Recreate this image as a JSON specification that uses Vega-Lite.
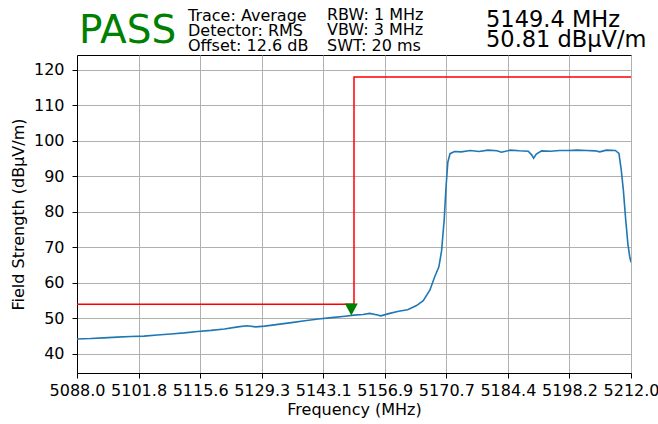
{
  "$schema": "https://vega.github.io/schema/vega-lite/v6.json",
  "width": 554,
  "height": 318,
  "autosize": {"type": "none"},
  "padding": {"left": 77, "top": 55, "right": 27, "bottom": 51},
  "background": "white",
  "config": {
    "font": "DejaVu Sans",
    "view": {"stroke": "black", "strokeWidth": 1},
    "axis": {
      "labelFont": "DejaVu Sans",
      "titleFont": "DejaVu Sans",
      "labelFontSize": 16,
      "titleFontSize": 16,
      "titleFontWeight": "normal",
      "labelColor": "black",
      "titleColor": "black",
      "domainColor": "black",
      "tickColor": "black",
      "tickSize": 5,
      "tickWidth": 1,
      "gridColor": "#b0b0b0",
      "gridWidth": 1,
      "gridOpacity": 1
    }
  },
  "datasets": {
    "trace": [
      {"f": 5088.0, "v": 44.2}, {"f": 5091, "v": 44.3}, {"f": 5094, "v": 44.5}, {"f": 5097, "v": 44.7},
      {"f": 5100, "v": 44.9}, {"f": 5103, "v": 45.0}, {"f": 5106, "v": 45.3}, {"f": 5109, "v": 45.6},
      {"f": 5112, "v": 45.9}, {"f": 5115, "v": 46.3}, {"f": 5118, "v": 46.6}, {"f": 5121, "v": 47.0},
      {"f": 5124, "v": 47.6}, {"f": 5126, "v": 47.9}, {"f": 5128, "v": 47.6}, {"f": 5130, "v": 47.8},
      {"f": 5133, "v": 48.3}, {"f": 5136, "v": 48.8}, {"f": 5139, "v": 49.3}, {"f": 5142, "v": 49.8},
      {"f": 5145, "v": 50.2}, {"f": 5148, "v": 50.6}, {"f": 5150, "v": 50.9}, {"f": 5152, "v": 51.1},
      {"f": 5153.5, "v": 51.4}, {"f": 5155, "v": 51.0}, {"f": 5156, "v": 50.7}, {"f": 5158, "v": 51.4},
      {"f": 5160, "v": 52.0}, {"f": 5162, "v": 52.4}, {"f": 5164, "v": 53.6}, {"f": 5165.5, "v": 55.0},
      {"f": 5167, "v": 58.0}, {"f": 5168, "v": 61.5}, {"f": 5169, "v": 64.5}, {"f": 5169.6, "v": 69},
      {"f": 5170.2, "v": 78}, {"f": 5170.6, "v": 87}, {"f": 5171, "v": 94}, {"f": 5171.5, "v": 96.4},
      {"f": 5172.5, "v": 97.0}, {"f": 5174, "v": 96.9}, {"f": 5176, "v": 97.3}, {"f": 5178, "v": 97.0},
      {"f": 5180, "v": 97.4}, {"f": 5182, "v": 97.2}, {"f": 5183, "v": 96.8}, {"f": 5185, "v": 97.4},
      {"f": 5187, "v": 97.2}, {"f": 5189, "v": 97.1}, {"f": 5189.8, "v": 96.0}, {"f": 5190.2, "v": 95.1},
      {"f": 5190.8, "v": 96.3}, {"f": 5192, "v": 97.2}, {"f": 5194, "v": 97.1}, {"f": 5196, "v": 97.3},
      {"f": 5198, "v": 97.3}, {"f": 5200, "v": 97.4}, {"f": 5202, "v": 97.3}, {"f": 5204, "v": 97.2},
      {"f": 5205, "v": 96.9}, {"f": 5206.5, "v": 97.4}, {"f": 5208.5, "v": 97.3}, {"f": 5209.3, "v": 96.5},
      {"f": 5209.8, "v": 92}, {"f": 5210.3, "v": 86}, {"f": 5210.8, "v": 78}, {"f": 5211.3, "v": 71},
      {"f": 5211.7, "v": 67.5}, {"f": 5212, "v": 65.8}
    ],
    "limit": [
      {"f": 5088, "v": 54, "o": 1},
      {"f": 5150, "v": 54, "o": 2},
      {"f": 5150, "v": 118, "o": 3},
      {"f": 5212, "v": 118, "o": 4}
    ],
    "marker": [{"f": 5149.4, "v": 50.81}]
  },
  "encoding": {
    "x": {
      "field": "f", "type": "quantitative",
      "scale": {"domain": [5088, 5212], "nice": false, "zero": false},
      "axis": {
        "title": "Frequency (MHz)",
        "values": [5088, 5101.78, 5115.56, 5129.33, 5143.11, 5156.89, 5170.67, 5184.44, 5198.22, 5212],
        "format": ".1f",
        "labelFlush": false,
        "labelOverlap": false,
        "labelPadding": 4,
        "titlePadding": 3
      }
    },
    "y": {
      "field": "v", "type": "quantitative",
      "scale": {"domain": [34.6, 124.2], "nice": false, "zero": false},
      "axis": {
        "title": "Field Strength (dBµV/m)",
        "values": [40, 50, 60, 70, 80, 90, 100, 110, 120],
        "labelPadding": 8,
        "titlePadding": 7
      }
    }
  },
  "layer": [
    {
      "data": {"name": "trace"},
      "mark": {"type": "line", "color": "#1f77b4", "strokeWidth": 1.6, "clip": true}
    },
    {
      "data": {"name": "limit"},
      "mark": {"type": "line", "color": "#ff0000", "strokeWidth": 1.5, "clip": true},
      "encoding": {"order": {"field": "o", "type": "quantitative"}}
    },
    {
      "data": {"name": "marker"},
      "mark": {"type": "point", "shape": "M-1,-1.85L1,-1.85L0,0Z", "filled": true, "color": "#008000", "size": 169, "opacity": 1}
    },
    {
      "data": {"values": [{"t": "PASS"}]},
      "mark": {"type": "text", "align": "left", "baseline": "alphabetic", "fontSize": 39, "color": "#008000", "font": "DejaVu Sans"},
      "encoding": {"x": {"value": 2}, "y": {"value": -12.3}, "text": {"field": "t"}}
    },
    {
      "data": {"values": [{"t": ["Trace: Average", "Detector: RMS", "Offset: 12.6 dB"]}]},
      "mark": {"type": "text", "align": "left", "baseline": "alphabetic", "fontSize": 16, "lineHeight": 15, "color": "black", "font": "DejaVu Sans"},
      "encoding": {"x": {"value": 111}, "y": {"value": -34.5}, "text": {"field": "t"}}
    },
    {
      "data": {"values": [{"t": ["RBW: 1 MHz", "VBW: 3 MHz", "SWT: 20 ms"]}]},
      "mark": {"type": "text", "align": "left", "baseline": "alphabetic", "fontSize": 16, "lineHeight": 15.5, "color": "black", "font": "DejaVu Sans"},
      "encoding": {"x": {"value": 250}, "y": {"value": -35.5}, "text": {"field": "t"}}
    },
    {
      "data": {"values": [{"t": "5149.4 MHz"}]},
      "mark": {"type": "text", "align": "left", "baseline": "alphabetic", "fontSize": 22.5, "color": "black", "font": "DejaVu Sans"},
      "encoding": {"x": {"value": 409}, "y": {"value": -27.7}, "text": {"field": "t"}}
    },
    {
      "data": {"values": [{"t": "50.81 dBµV/m"}]},
      "mark": {"type": "text", "align": "left", "baseline": "alphabetic", "fontSize": 22.5, "color": "black", "font": "DejaVu Sans"},
      "encoding": {"x": {"value": 409}, "y": {"value": -8.3}, "text": {"field": "t"}}
    }
  ]
}
